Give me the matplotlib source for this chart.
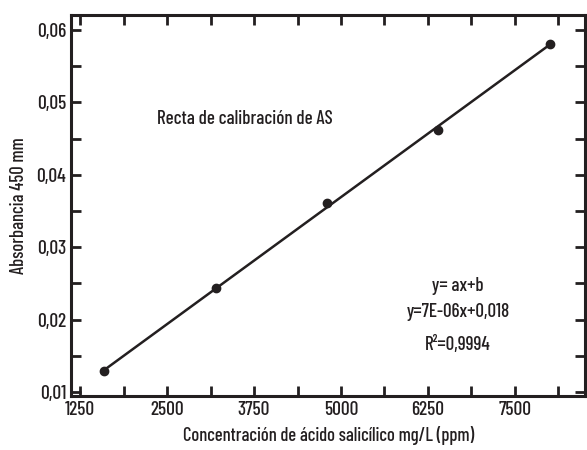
import matplotlib
matplotlib.use("Agg")
import matplotlib.pyplot as plt
from matplotlib import font_manager
from matplotlib.ticker import MultipleLocator, FuncFormatter
import numpy as np

# Data
concentration = [1600, 3200, 4800, 6400, 8000]
absorbance = [0.0129, 0.0243, 0.0361, 0.0462, 0.0581]
x_ticks = [1250, 2500, 3750, 5000, 6250, 7500]
y_ticks = [0.01, 0.02, 0.03, 0.04, 0.05, 0.06]

names = {f.name for f in font_manager.fontManager.ttflist}
family = 'DejaVu Sans'
for cand in ['Barlow Condensed', 'Barlow Semi Condensed', 'Roboto Condensed']:
    if cand in names:
        family = cand
        break
plt.rcParams['font.family'] = [family, 'DejaVu Sans']
plt.rcParams['font.weight'] = 500
plt.rcParams['axes.labelweight'] = 500

ink = '#231f20'
fig = plt.figure(figsize=(5.87, 4.5), dpi=100)
ax = fig.add_axes([0.121, 0.12, 0.876, 0.847])

ax.plot(concentration, absorbance, 'o', color=ink, markersize=6, zorder=3)
coef = np.polyfit(concentration, absorbance, 1)
xs = np.array([concentration[0], concentration[-1]])
ax.plot(xs, np.polyval(coef, xs), '-', color=ink, lw=1.8)

ax.set_xlim(1120, 8510)
ax.set_ylim(0.00945, 0.0621)
ax.set_xticks(x_ticks)
ax.xaxis.set_minor_locator(MultipleLocator(625))
ax.set_yticks(y_ticks)
ax.yaxis.set_minor_locator(MultipleLocator(0.005))
ax.yaxis.set_major_formatter(FuncFormatter(lambda v, p: f"{v:.2f}".replace('.', ',')))
ax.tick_params(which='both', direction='in', top=True, right=True, width=2,
               color=ink, labelsize=14, labelcolor=ink)
ax.tick_params(which='major', length=7)
ax.tick_params(which='minor', length=7)
for s in ax.spines.values():
    s.set_linewidth(2.2)
    s.set_color(ink)

ax.set_xlabel('Concentración de ácido salicílico mg/L (ppm)', fontsize=13.4, color=ink,
              labelpad=5, fontweight=500)
ax.set_ylabel('Absorbancia 450 mm', fontsize=13.4, color=ink, labelpad=6, fontweight=500)

fs = 13.7
ax.text(3620, 0.0477, 'Recta de calibración de AS', fontsize=fs, color=ink, ha='center', va='center')
ax.text(6680, 0.0247, 'y= ax+b', fontsize=fs, color=ink, ha='center', va='center')
ax.text(6680, 0.0211, 'y=7E-06x+0,018', fontsize=fs, color=ink, ha='center', va='center')
ax.text(6680, 0.0165, 'R²=0,9994', fontsize=fs, color=ink, ha='center', va='center')

fig.savefig('out.png', dpi=100)
